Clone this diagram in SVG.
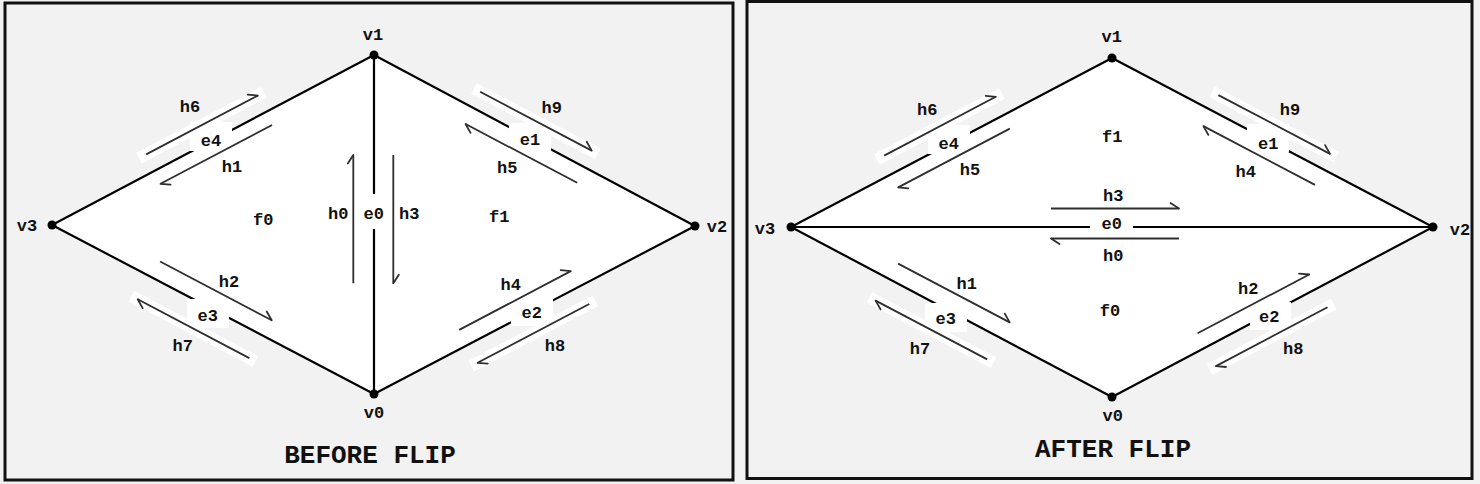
<svg xmlns="http://www.w3.org/2000/svg" width="1480" height="484" viewBox="0 0 1480 484">
<defs>
<style>
.bg{fill:#f2f2f2}
.panel{fill:#f2f2f2;stroke:#111;stroke-width:3}
.face{fill:#fff;stroke:none}
.edge{stroke:#000;stroke-width:2.2;fill:none}
.band{stroke:#fff;stroke-width:12;fill:none}
.box{fill:#fff;stroke:none}
.he{stroke:#2e2e2e;stroke-width:1.8;fill:none;marker-end:url(#half)}
.dot{fill:#000}
text{font-family:"Liberation Mono","DejaVu Sans Mono",monospace;font-weight:bold;fill:#111}
.lbl{font-size:17px;text-anchor:middle}
.title{font-size:26px;text-anchor:middle}
</style>
<marker id="half" markerUnits="userSpaceOnUse" viewBox="-10 -10 20 20" markerWidth="20" markerHeight="20" refX="0" refY="0" orient="auto" overflow="visible">
<path d="M-8.5,-5.5 L0,0" stroke="#2e2e2e" stroke-width="1.8" fill="none" stroke-linecap="round"/>
</marker>
</defs>
<rect class="bg" x="0" y="0" width="1480" height="484"/>

<g id="before">
<rect class="panel" x="5" y="3" width="728" height="477"/>
<polygon class="face" points="52,225 374,55 695,226 374,394"/>
<g id="before-connectors">
<line class="band" x1="139" y1="158.2" x2="264" y2="92.3"/>
<line class="band" x1="473.9" y1="88.5" x2="597.9" y2="153.9"/>
<line class="band" x1="255.5" y1="361.4" x2="131.5" y2="296"/>
<line class="band" x1="595.4" y1="300.7" x2="471.4" y2="366.1"/>
<line id="b-e0" class="edge" x1="374" y1="55" x2="374" y2="394"/>
<line id="b-e1" class="edge" x1="374" y1="55" x2="695" y2="226"/>
<line id="b-e2" class="edge" x1="374" y1="394" x2="695" y2="226"/>
<line id="b-e3" class="edge" x1="52" y1="225" x2="374" y2="394"/>
<line id="b-e4" class="edge" x1="52" y1="225" x2="374" y2="55"/>
<rect class="box" x="190" y="122" width="42" height="29"/>
<rect class="box" x="509" y="123" width="42" height="28"/>
<rect class="box" x="187" y="299" width="42" height="29"/>
<rect class="box" x="511" y="298" width="42" height="28"/>
<rect class="box" x="353" y="194" width="42" height="35"/>
<line id="b-h6" class="he" x1="146.2" y1="154.4" x2="257.8" y2="95.6"/>
<line id="b-h1" class="he" x1="272.1" y1="125" x2="160.5" y2="183.8"/>
<line id="b-h9" class="he" x1="480.1" y1="91.8" x2="591.7" y2="150.6"/>
<line id="b-h5" class="he" x1="577.2" y1="182.8" x2="465.6" y2="124"/>
<line id="b-h0" class="he" x1="353.3" y1="283.3" x2="353.3" y2="155"/>
<line id="b-h3" class="he" x1="393.3" y1="155" x2="393.3" y2="283.3"/>
<line id="b-h2" class="he" x1="160.1" y1="261.5" x2="271.7" y2="320.3"/>
<line id="b-h7" class="he" x1="249.3" y1="358.1" x2="137.7" y2="299.3"/>
<line id="b-h4" class="he" x1="459.2" y1="329.9" x2="570.8" y2="271.1"/>
<line id="b-h8" class="he" x1="589.2" y1="304" x2="477.6" y2="362.8"/>
</g>
<g id="before-v0"><circle class="dot" cx="374" cy="394" r="4.5"/><text class="lbl" x="374" y="418">v0</text></g>
<g id="before-v1"><circle class="dot" cx="374" cy="55" r="4.5"/><text class="lbl" x="373" y="39.5">v1</text></g>
<g id="before-v2"><circle class="dot" cx="695" cy="226" r="4.5"/><text class="lbl" x="717" y="232">v2</text></g>
<g id="before-v3"><circle class="dot" cx="52" cy="225" r="4.5"/><text class="lbl" x="27" y="231">v3</text></g>
<g id="before-labels">
<text class="lbl" x="190" y="112">h6</text>
<text class="lbl" x="211" y="146">e4</text>
<text class="lbl" x="232" y="172">h1</text>
<text class="lbl" x="551.7" y="112.7">h9</text>
<text class="lbl" x="530" y="145.3">e1</text>
<text class="lbl" x="507.3" y="172.7">h5</text>
<text class="lbl" x="338.3" y="219.3">h0</text>
<text class="lbl" x="373.8" y="219.3">e0</text>
<text class="lbl" x="409.3" y="219.3">h3</text>
<text class="lbl" x="263.3" y="225">f0</text>
<text class="lbl" x="499.3" y="222">f1</text>
<text class="lbl" x="229" y="286.7">h2</text>
<text class="lbl" x="207.7" y="321">e3</text>
<text class="lbl" x="182.7" y="351">h7</text>
<text class="lbl" x="510.7" y="290.3">h4</text>
<text class="lbl" x="531.7" y="317.7">e2</text>
<text class="lbl" x="555" y="351">h8</text>
</g>
<text class="title" x="370" y="463">BEFORE FLIP</text>
</g>

<g id="after">
<rect class="panel" x="747" y="1.5" width="725" height="477"/>
<polygon class="face" points="791,227 1112,58 1433,227 1112,397"/>
<g id="after-connectors">
<line class="band" x1="877" y1="159.4" x2="1002" y2="93.5"/>
<line class="band" x1="1212.2" y1="91.8" x2="1336.2" y2="157.2"/>
<line class="band" x1="993.4" y1="362.7" x2="869.4" y2="297.3"/>
<line class="band" x1="1333.7" y1="304" x2="1209.7" y2="369.4"/>
<line id="a-e0" class="edge" x1="791" y1="227" x2="1433" y2="227"/>
<line id="a-e1" class="edge" x1="1112" y1="58" x2="1433" y2="227"/>
<line id="a-e2" class="edge" x1="1112" y1="397" x2="1433" y2="227"/>
<line id="a-e3" class="edge" x1="791" y1="227" x2="1112" y2="397"/>
<line id="a-e4" class="edge" x1="791" y1="227" x2="1112" y2="58"/>
<rect class="box" x="928" y="125" width="42" height="29"/>
<rect class="box" x="1247" y="124" width="42" height="28"/>
<rect class="box" x="925" y="303" width="42" height="29"/>
<rect class="box" x="1250" y="302" width="41" height="28"/>
<rect class="box" x="1090" y="211" width="43" height="24"/>
<line id="a-h6" class="he" x1="884.2" y1="155.6" x2="995.8" y2="96.8"/>
<line id="a-h5" class="he" x1="1009.8" y1="128.6" x2="898.2" y2="187.4"/>
<line id="a-h9" class="he" x1="1218.4" y1="95.1" x2="1330" y2="153.9"/>
<line id="a-h4" class="he" x1="1315" y1="184.9" x2="1203.4" y2="126.1"/>
<line id="a-h3" class="he" x1="1051" y1="208.5" x2="1179" y2="208.5"/>
<line id="a-h0" class="he" x1="1179" y1="238.5" x2="1051" y2="238.5"/>
<line id="a-h1" class="he" x1="898.1" y1="263.6" x2="1009.7" y2="322.4"/>
<line id="a-h7" class="he" x1="987.2" y1="359.4" x2="875.6" y2="300.6"/>
<line id="a-h2" class="he" x1="1197.6" y1="333.3" x2="1309.2" y2="274.5"/>
<line id="a-h8" class="he" x1="1327.5" y1="307.3" x2="1215.9" y2="366.1"/>
</g>
<g id="after-v0"><circle class="dot" cx="1112" cy="397" r="4.5"/><text class="lbl" x="1112.7" y="421">v0</text></g>
<g id="after-v1"><circle class="dot" cx="1112" cy="58" r="4.5"/><text class="lbl" x="1111.7" y="41.5">v1</text></g>
<g id="after-v2"><circle class="dot" cx="1433" cy="227" r="4.5"/><text class="lbl" x="1460" y="235">v2</text></g>
<g id="after-v3"><circle class="dot" cx="791" cy="227" r="4.5"/><text class="lbl" x="765" y="233.7">v3</text></g>
<g id="after-labels">
<text class="lbl" x="927.3" y="115.3">h6</text>
<text class="lbl" x="948.7" y="149.3">e4</text>
<text class="lbl" x="970" y="175.3">h5</text>
<text class="lbl" x="1290" y="115.3">h9</text>
<text class="lbl" x="1268.3" y="148.7">e1</text>
<text class="lbl" x="1245.7" y="176.7">h4</text>
<text class="lbl" x="1112.3" y="142">f1</text>
<text class="lbl" x="1113.3" y="201">h3</text>
<text class="lbl" x="1111.7" y="229.3">e0</text>
<text class="lbl" x="1113.3" y="261">h0</text>
<text class="lbl" x="966.7" y="288.7">h1</text>
<text class="lbl" x="945.7" y="324.3">e3</text>
<text class="lbl" x="920" y="354.3">h7</text>
<text class="lbl" x="1110" y="316">f0</text>
<text class="lbl" x="1248.3" y="293.7">h2</text>
<text class="lbl" x="1269.3" y="322">e2</text>
<text class="lbl" x="1293.3" y="354.3">h8</text>
</g>
<text class="title" x="1113" y="457">AFTER FLIP</text>
</g>
</svg>
